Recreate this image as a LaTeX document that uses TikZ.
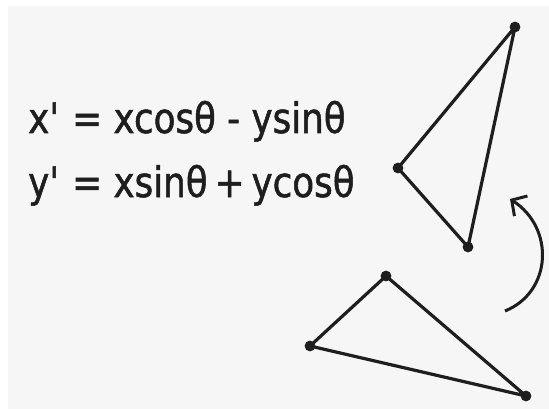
\documentclass[tikz,border=0pt]{standalone}
\usepackage{fontspec}
\usetikzlibrary{arrows.meta}
\newfontfamily\handfont[FakeStretch=0.85,FakeBold=1.2]{DejaVu Sans}
\definecolor{paper}{HTML}{F6F6F6}
\definecolor{ink}{HTML}{1E1E1E}
\tikzset{
  edge/.style={ink,line width=3.2pt,line join=round},
  eqn/.style={ink,anchor=base west,inner sep=0pt,font=\handfont\fontsize{42}{50}\selectfont},
}
\begin{document}
\begin{tikzpicture}[x=1pt,y=-1pt]
  \useasboundingbox (0,0) rectangle (549,409);
  \fill[white] (0,0) rectangle (549,409);
  \fill[paper] (8,6) rectangle (549,409);

  \node[eqn] (eqx) at (28,133) {x\textquotesingle{} = xcosθ - ysinθ};
  \node[eqn] (eqy) at (28,197) {y\textquotesingle{} = xsinθ\,+\,ycosθ};

  % rotated triangle
  \coordinate (r1) at (515,27);
  \coordinate (r2) at (398,168);
  \coordinate (r3) at (468,247);
  % original triangle
  \coordinate (o1) at (386,276);
  \coordinate (o2) at (310,346);
  \coordinate (o3) at (526,396);

  \draw[edge] (r1) -- (r2) -- (r3) -- cycle;
  \draw[edge] (o1) -- (o2) -- (o3) -- cycle;
  \foreach \v in {r1,r2,r3,o1,o2,o3}
    \fill[ink] (\v) circle (5.4pt);

  \coordinate (arrA) at (505,311);
  \coordinate (arrB) at (510,199);
  \draw[ink,line width=3pt,-{Straight Barb[length=11pt,width=24pt,line width=3pt]}]
    (arrA) .. controls (552,292) and (555,228) .. (arrB);
\end{tikzpicture}
\end{document}
